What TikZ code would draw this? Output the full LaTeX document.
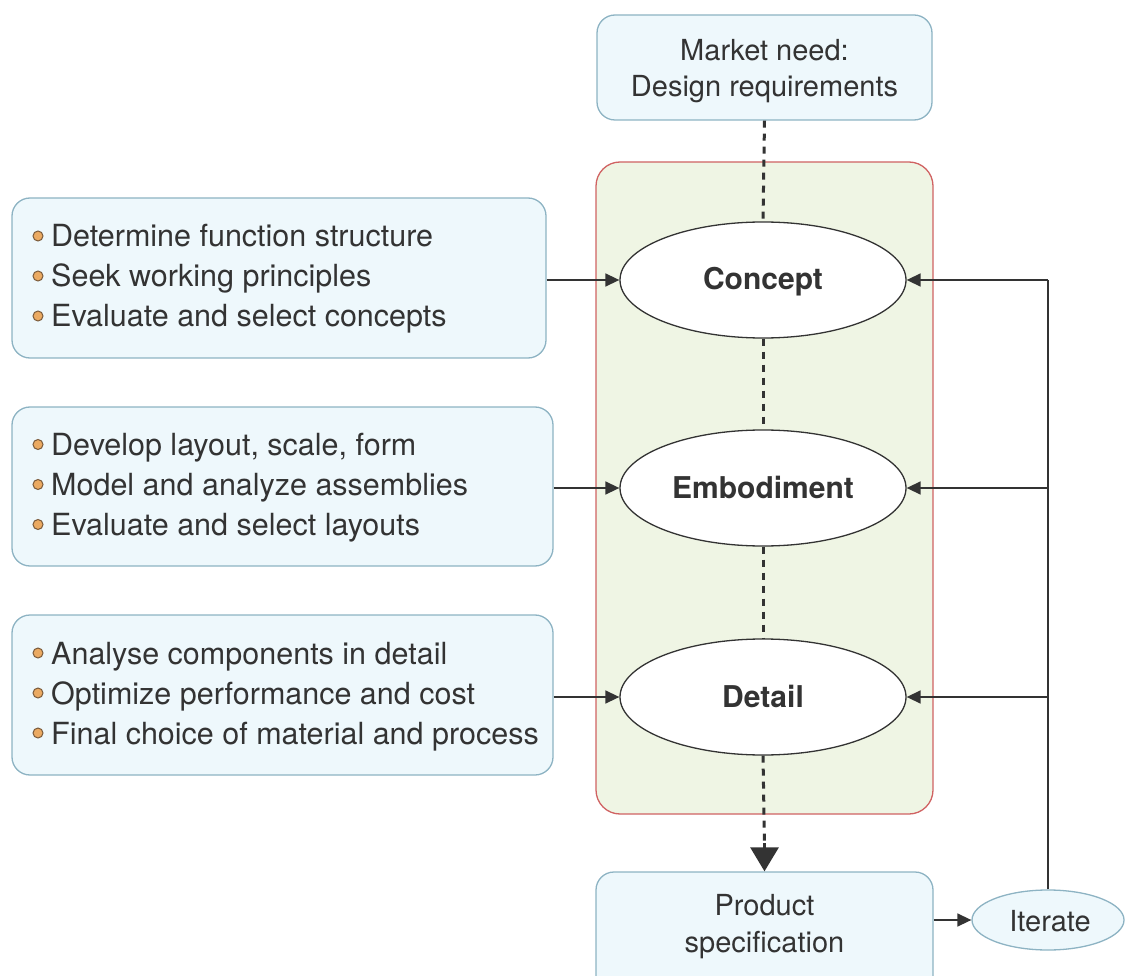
\documentclass[tikz,border=0pt]{standalone}
\usepackage{fontspec}
\setmainfont{TeX Gyre Heros}
\usetikzlibrary{shapes.geometric,arrows.meta,calc}
\definecolor{txt}{HTML}{333333}
\definecolor{bluefill}{HTML}{EEF8FC}
\definecolor{blueline}{HTML}{8DB3C3}
\definecolor{redline}{HTML}{D06262}
\definecolor{greenfill}{HTML}{EFF5E4}
\definecolor{bulfill}{HTML}{EBAA62}
\definecolor{bulline}{HTML}{7A5A3A}
\tikzset{
  bluebox/.style={draw=blueline, line width=1.3pt, fill=bluefill, rounded corners=18pt, inner sep=0pt},
  stage/.style={ellipse, draw=txt, line width=1.3pt, fill=white, minimum width=286pt, minimum height=116pt, inner sep=0pt},
  stagetxt/.style={anchor=base, inner sep=0pt, font=\fontsize{30}{30}\selectfont\bfseries, text=txt},
  itemtxt/.style={anchor=base west, inner sep=0pt, font=\fontsize{30.5}{30}\selectfont, text=txt},
  ctrtxt/.style={anchor=base, inner sep=0pt, font=\fontsize{29}{30}\selectfont, text=txt},
  bul/.style={circle, draw=bulline, fill=bulfill, line width=1pt, minimum size=10pt, inner sep=0pt},
  arr/.style={draw=txt, line width=1.5pt, -{Triangle[length=14pt,width=13pt]}},
  conn/.style={draw=txt, line width=1.5pt},
  dash3/.style={draw=txt, line width=3pt, dash pattern=on 7pt off 6pt},
}
\begin{document}
\begin{tikzpicture}[x=1pt,y=-1pt]
\useasboundingbox (0,0) rectangle (1125,976);
\clip (0,0) rectangle (1125,976);
% frames
\node[bluebox, minimum width=335pt, minimum height=105pt] (market) at (764.5,67.5) {};
\node[ctrtxt] (mk1) at (764.5,61) {Market need:};
\node[ctrtxt] (mk2) at (764.5,97) {Design requirements};
\node[draw=redline, line width=1.3pt, fill=greenfill, rounded corners=24pt, minimum width=337pt, minimum height=652pt, inner sep=0pt] (frame) at (764.5,488) {};
\node[bluebox, minimum width=337pt, minimum height=130pt] (prod) at (764.5,937) {};
\node[ctrtxt] (pr1) at (764.5,915) {Product};
\node[ctrtxt] (pr2) at (764.5,952) {specification};
% stages
\node[stage] (concept) at (763,280) {};
\node[stagetxt] (conceptt) at (763,290) {Concept};
\node[stage] (emb) at (763,488) {};
\node[stagetxt] (embt) at (763,498) {Embodiment};
\node[stage] (detail) at (763,697) {};
\node[stagetxt] (detailt) at (763,707) {Detail};
\node[ellipse, draw=blueline, line width=1.3pt, fill=bluefill, minimum width=152pt, minimum height=60pt, inner sep=0pt] (iter) at (1048,920) {};
\node[ctrtxt] (itert) at (1050,931) {Iterate};
% left boxes
\node[bluebox, minimum width=534pt, minimum height=160pt] (b1) at (279,278) {};
\node[bluebox, minimum width=541pt, minimum height=159pt] (b2) at (282.5,486.5) {};
\node[bluebox, minimum width=541pt, minimum height=160pt] (b3) at (282.5,695) {};
% bullets and texts
\foreach \n/\y/\t in {a1/247/Determine function structure, a2/287/Seek working principles, a3/327/Evaluate and select concepts,
  c1/455.5/Develop layout{,} scale{,} form, c2/495.5/Model and analyze assemblies, c3/535.5/Evaluate and select layouts,
  d1/664/Analyse components in detail, d2/704/Optimize performance and cost, d3/744/Final choice of material and process}{
  \node[bul] (bul\n) at (38,\y-11) {};
  \node[itemtxt] (txt\n) at (51,\y) {\t};
}
% connectors
\draw[arr] (b1.east |- concept) -- (concept.west);
\draw[arr] (b2.east |- emb) -- (emb.west);
\draw[arr] (b3.east |- detail) -- (detail.west);
\draw[arr] (prod.east |- iter) -- (iter.west);
\draw[conn] (iter.north) -- (iter.north |- concept);
\draw[arr] (iter.north |- concept) -- (concept.east);
\draw[arr] (iter.north |- emb) -- (emb.east);
\draw[arr] (iter.north |- detail) -- (detail.east);
\draw[dash3] (market.south) -- (concept.north);
\draw[dash3] (concept.south) -- (emb.north);
\draw[dash3] (emb.south) -- (detail.north);
\draw[dash3] (detail.south) -- ($(prod.north)+(0,-26)$);
\draw[draw=txt, line width=3pt, -{Triangle[length=24pt,width=28pt]}] ($(prod.north)+(0,-28)$) -- (prod.north);
\end{tikzpicture}
\end{document}
